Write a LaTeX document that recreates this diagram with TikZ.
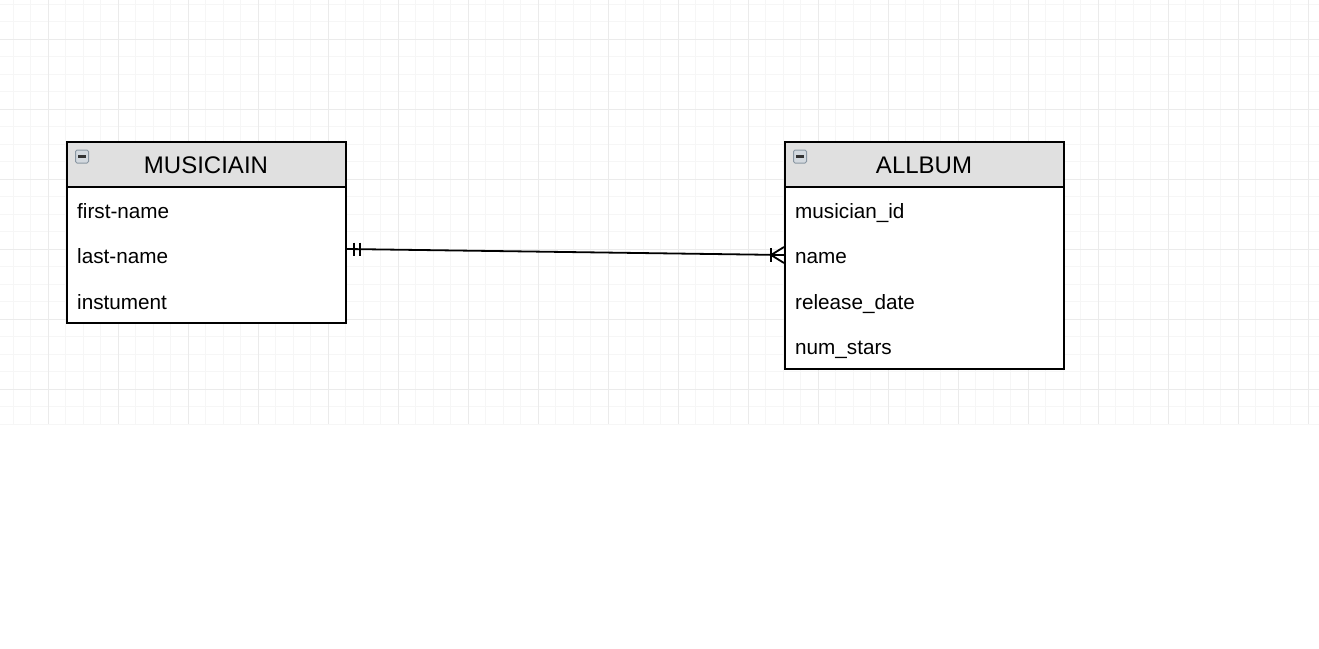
\documentclass[tikz,border=0pt]{standalone}
\usepackage{fontspec}
\setmainfont{Liberation Sans}
\usetikzlibrary{calc}
\definecolor{gridminor}{HTML}{F6F6F6}
\definecolor{gridmajor}{HTML}{EBEBEB}
\definecolor{hdrgray}{HTML}{E0E0E0}
\definecolor{iconedge}{HTML}{8A97A3}
\definecolor{iconfill}{HTML}{D3D9DF}
\definecolor{iconbar}{HTML}{333333}
\begin{document}
\begin{tikzpicture}[x=1pt,y=-1pt,
  minorline/.style={draw=gridminor, line width=0.8pt},
  majorline/.style={draw=gridmajor, line width=0.9pt},
  entity/.style={draw=black, line width=2pt, fill=white, minimum width=279pt, inner sep=0pt, anchor=north west},
  hdr/.style={draw=black, line width=2pt, fill=hdrgray, minimum width=279pt, minimum height=45pt, inner sep=0pt, anchor=north west},
  htext/.style={anchor=base, inner sep=0pt, font=\fontsize{24}{28}\selectfont},
  rowtext/.style={anchor=base west, inner sep=0pt, font=\fontsize{20.7}{24}\selectfont},
  icon/.style={draw=iconedge, fill=iconfill, line width=1pt, minimum width=13pt, minimum height=13pt, inner sep=0pt, rounded corners=1.5pt},
  iconminus/.style={draw=iconbar, line width=2.2pt},
  rel/.style={draw=black, line width=1.8pt},
  relmark/.style={draw=black, line width=1.8pt}
]
\useasboundingbox (0,0) rectangle (1319,648);
\fill[white] (0,0) rectangle (1319,648);
% grid
\foreach \i in {0,...,74} {
  \draw[minorline] ({13+17.5*\i},0) -- ({13+17.5*\i},424);
}
\foreach \j in {0,...,24} {
  \draw[minorline] (0,{4+17.5*\j}) -- (1319,{4+17.5*\j});
}
\foreach \i in {0,...,18} {
  \draw[majorline] ({48+70*\i},0) -- ({48+70*\i},424);
}
\foreach \j in {0,...,5} {
  \draw[majorline] (0,{39+70*\j}) -- (1319,{39+70*\j});
}

% MUSICIAIN entity
\node[entity, minimum height=181pt] (mus) at (66,141) {};
\node[hdr] (musH) at (66,141) {};
\node[htext] (musT) at (206,173.5) {MUSICIAIN};
\node[icon] (musI) at (82,156.5) {};
\draw[iconminus] ($(musI.center)+(-4,0)$) -- ($(musI.center)+(4,0)$);
\node[rowtext] (m1) at (77,218.5) {first-name};
\node[rowtext] (m2) at (77,263.5) {last-name};
\node[rowtext] (m3) at (77,309.0) {instument};

% ALLBUM entity
\node[entity, minimum height=227pt] (alb) at (784,141) {};
\node[hdr] (albH) at (784,141) {};
\node[htext] (albT) at (924,173.5) {ALLBUM};
\node[icon] (albI) at (800,156.5) {};
\draw[iconminus] ($(albI.center)+(-4,0)$) -- ($(albI.center)+(4,0)$);
\node[rowtext] (a1) at (795,218.5) {musician\_id};
\node[rowtext] (a2) at (795,263.5) {name};
\node[rowtext] (a3) at (795,309.0) {release\_date};
\node[rowtext] (a4) at (795,354.2) {num\_stars};

% relationship
\coordinate (relL) at ($(mus.east |- m2.base)+(0,-14.5)$);
\coordinate (relR) at ($(alb.west |- a2.base)+(0,-8.5)$);
\draw[rel] (relL) -- (relR);
% mandatory one (left)
\draw[relmark] ($(relL)+(7,-6.5)$) -- ($(relL)+(7,6.5)$);
\draw[relmark] ($(relL)+(13,-6.5)$) -- ($(relL)+(13,6.5)$);
% one or many (right)
\draw[relmark] ($(relR)+(-13,-7)$) -- ($(relR)+(-13,7)$);
\draw[relmark] ($(relR)+(0,-8)$) -- ($(relR)+(-13,0)$) -- ($(relR)+(0,8)$);
\end{tikzpicture}
\end{document}
